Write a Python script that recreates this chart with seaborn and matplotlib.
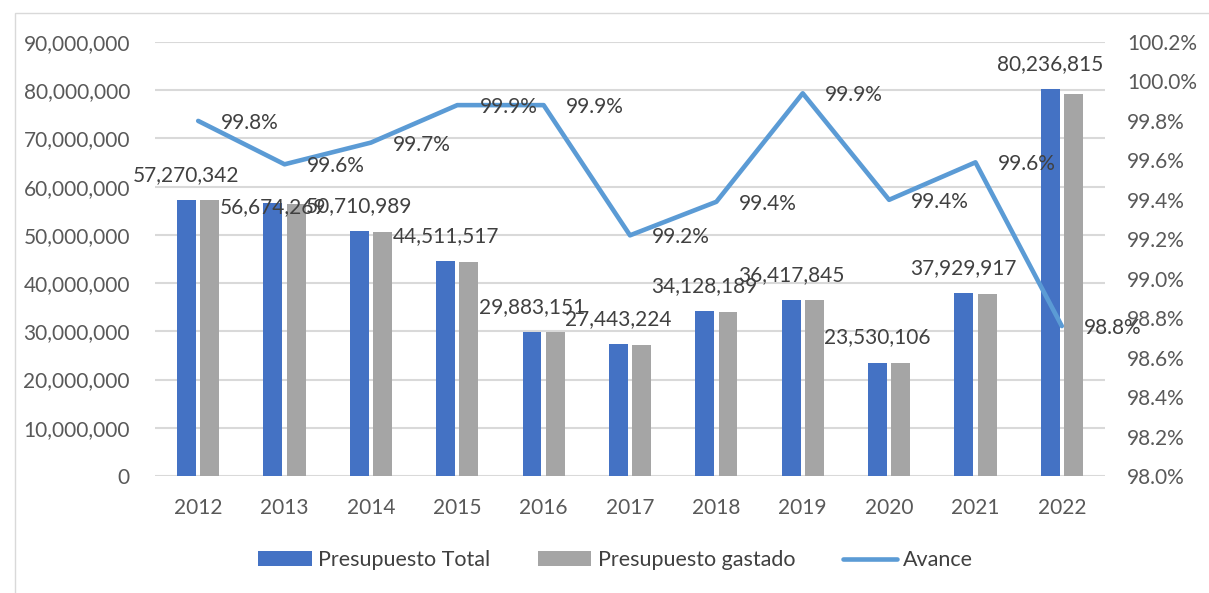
import numpy as np
import pandas as pd
import matplotlib
matplotlib.use("Agg")
import matplotlib.pyplot as plt
import matplotlib.ticker as mticker
from matplotlib.patches import Patch, Rectangle
from matplotlib.lines import Line2D
import seaborn as sns

# data
years = ["2012", "2013", "2014", "2015", "2016", "2017", "2018", "2019", "2020", "2021", "2022"]
presupuesto_total = [57270342, 56674269, 50710989, 44511517, 29883151, 27443224,
                     34128189, 36417845, 23530106, 37929917, 80236815]
presupuesto_gastado = [57160000, 56440000, 50550000, 44460000, 29850000, 27230000,
                       33920000, 36400000, 23390000, 37770000, 79240000]
avance = [99.80, 99.58, 99.69, 99.88, 99.88, 99.22, 99.39, 99.94, 99.40, 99.59, 98.76]

BLUE = "#4472C4"
GRAY = "#A5A5A5"
LINE = "#5B9BD5"
TXT = "#404040"
TICK = "#595959"
GRID = "#D9D9D9"
FS = 15

sns.set_style("white")
plt.rcParams["font.family"] = ["Lato", "DejaVu Sans"]

df = pd.DataFrame({
    "year": years * 2,
    "valor": presupuesto_total + presupuesto_gastado,
    "serie": ["Presupuesto Total"] * len(years) + ["Presupuesto gastado"] * len(years),
})

fig = plt.figure(figsize=(12.09, 5.93), dpi=100)
ax = fig.add_axes([155 / 1209, 117 / 593, 950 / 1209, 434 / 593])

sns.barplot(data=df, x="year", y="valor", hue="serie", ax=ax,
            palette=[BLUE, GRAY], width=0.54, gap=0.19, legend=False,
            saturation=1, edgecolor="none")

ax.set_xlim(-0.5, len(years) - 0.5)
ax.set_ylim(0, 90000000)
ax.yaxis.set_major_locator(mticker.MultipleLocator(10000000))
ax.yaxis.set_major_formatter(mticker.FuncFormatter(lambda v, p: f"{v:,.0f}"))
ax.grid(axis="y", color=GRID, linewidth=1.5)
ax.set_axisbelow(True)
for s in ax.spines.values():
    s.set_visible(False)
ax.set_xlabel("")
ax.set_ylabel("")
ax.tick_params(axis="y", length=0, pad=18, labelsize=FS, labelcolor=TICK)
ax.tick_params(axis="x", length=0, pad=16, labelsize=FS, labelcolor=TICK)

# labels of the total bars
for i, v in enumerate(presupuesto_total):
    dy = -3 if i == 1 else 18
    ax.annotate(f"{v:,}", (i - 0.135, v), xytext=(0, dy), textcoords="offset points",
                ha="center", va="center", fontsize=FS, color=TXT)

ax2 = ax.twinx()
x_pos = np.arange(len(years))
sns.lineplot(x=x_pos, y=avance, ax=ax2, color=LINE, linewidth=3.3)
ax2.set_ylim(98.0, 100.2)
ax2.yaxis.set_major_locator(mticker.MultipleLocator(0.2))
ax2.yaxis.set_major_formatter(mticker.FuncFormatter(lambda v, p: f"{v:.1f}%"))
for s in ax2.spines.values():
    s.set_visible(False)
ax2.tick_params(axis="y", length=0, pad=16, labelsize=FS, labelcolor=TICK)
ax2.set_ylabel("")

for i, v in enumerate(avance):
    ax2.annotate(f"{v:.1f}%", (i, v), xytext=(16, -1.5), textcoords="offset points",
                 ha="left", va="center", fontsize=FS, color=TXT)

handles = [Patch(facecolor=BLUE, edgecolor="none"),
           Patch(facecolor=GRAY, edgecolor="none"),
           Line2D([0], [0], color=LINE, linewidth=3.3, solid_capstyle="round")]
fig.legend(handles, ["Presupuesto Total", "Presupuesto gastado", "Avance"],
           loc="center", bbox_to_anchor=(0.509, 1 - 560 / 593), ncol=3, frameon=False,
           fontsize=15.5, labelcolor=TXT, handlelength=2.5, handleheight=0.65,
           handletextpad=0.3, columnspacing=2.2)

# chart area border
fig.patches.append(Rectangle((15 / 1209, -0.1), 1.2, 1.1 - 13 / 593,
                             transform=fig.transFigure, fill=False,
                             edgecolor=GRID, linewidth=1))

fig.savefig("out.png", dpi=100, facecolor="white")
